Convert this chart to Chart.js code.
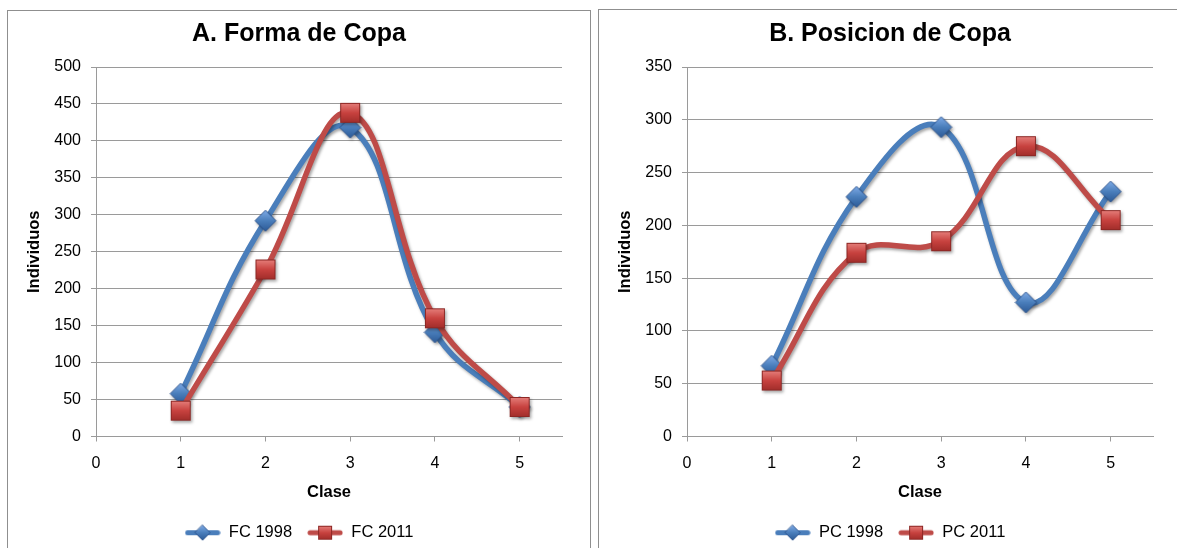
<!DOCTYPE html>
<html>
<head>
<meta charset="utf-8">
<script src="https://cdn.jsdelivr.net/npm/chart.js@4.4.0/dist/chart.umd.min.js"></script>
<style>
html, body { margin: 0; padding: 0; background: #fff; overflow: hidden; width: 1177px; height: 548px; }
.box { position: absolute; border: 1px solid #8f8f8f; background: #fff; }
#boxA { left: 7px; top: 10px; width: 582px; height: 560px; }
#boxB { left: 598px; top: 9px; width: 620px; height: 560px; }
canvas { display: block; }
</style>
</head>
<body>
<div class="box" id="boxA"><canvas id="cA" width="582" height="540"></canvas></div>
<div class="box" id="boxB"><canvas id="cB" width="582" height="541"></canvas></div>
<script>
// ---------- data ----------
const clases = [1, 2, 3, 4, 5];
const xTickValues = [0, 1, 2, 3, 4, 5];
const fc1998 = [58, 292, 418, 141, 40];
const fc2011 = [35, 226, 438, 160, 40];
const pc1998 = [67, 227, 293, 127, 232];
const pc2011 = [53, 174, 185, 275, 205];
const titleA = 'A. Forma de Copa';
const titleB = 'B. Posicion de Copa';
const seriesNamesA = ['FC 1998', 'FC 2011'];
const seriesNamesB = ['PC 1998', 'PC 2011'];
const yAxisTitle = 'Individuos';
const xAxisTitle = 'Clase';
const yMaxA = 500, yMaxB = 350, yStep = 50;

// ---------- style ----------
const FONT = "'Liberation Sans', Arial, Helvetica, sans-serif";
Chart.defaults.font.family = FONT;
Chart.defaults.color = '#000';
const BLUE = '#4a7ebb';
const RED = '#be4b48';
const GRID = '#9a9a9a';

function diamondImg(half, withLine) {
  const w = withLine ? 36 : Math.ceil(half * 2 + 2);
  const h = Math.ceil(half * 2 + 2);
  const c = document.createElement('canvas');
  c.width = w; c.height = h;
  const ctx = c.getContext('2d');
  const cx = w / 2, cy = h / 2;
  if (withLine) {
    ctx.strokeStyle = BLUE; ctx.lineWidth = 5; ctx.lineCap = 'round';
    ctx.beginPath(); ctx.moveTo(3, cy); ctx.lineTo(w - 3, cy); ctx.stroke();
  }
  const g = ctx.createLinearGradient(0, cy - half, 0, cy + half);
  g.addColorStop(0, '#7eaae6');
  g.addColorStop(0.5, '#4a7ebb');
  g.addColorStop(1, '#2c5a96');
  ctx.beginPath();
  ctx.moveTo(cx, cy - half); ctx.lineTo(cx + half, cy); ctx.lineTo(cx, cy + half); ctx.lineTo(cx - half, cy); ctx.closePath();
  ctx.fillStyle = g; ctx.fill();
  ctx.strokeStyle = 'rgba(40,80,140,0.9)'; ctx.lineWidth = 1; ctx.stroke();
  return c;
}
function squareImg(side, withLine) {
  const w = withLine ? 36 : Math.ceil(side + 2);
  const h = Math.ceil(side + 2);
  const c = document.createElement('canvas');
  c.width = w; c.height = h;
  const ctx = c.getContext('2d');
  const cx = w / 2, cy = h / 2;
  if (withLine) {
    ctx.strokeStyle = RED; ctx.lineWidth = 5; ctx.lineCap = 'round';
    ctx.beginPath(); ctx.moveTo(3, cy); ctx.lineTo(w - 3, cy); ctx.stroke();
  }
  const x0 = cx - side / 2, y0 = cy - side / 2;
  const g = ctx.createLinearGradient(0, y0, 0, y0 + side);
  g.addColorStop(0, '#e6807c');
  g.addColorStop(0.5, '#c8423f');
  g.addColorStop(1, '#a02d2a');
  ctx.fillStyle = g; ctx.fillRect(x0, y0, side, side);
  ctx.strokeStyle = '#8c2724'; ctx.lineWidth = 1; ctx.strokeRect(x0 + 0.5, y0 + 0.5, side - 1, side - 1);
  return c;
}

const diamondPt = diamondImg(10.5, false);
const squarePt = squareImg(20, false);
const diamondLeg = diamondImg(7.5, true);
const squareLeg = squareImg(14, true);
const legendImgs = [diamondLeg, squareLeg];

const shadowPlugin = {
  id: 'seriesShadow',
  beforeDatasetDraw(chart) {
    const ctx = chart.ctx;
    ctx.save();
    ctx.shadowColor = 'rgba(0,0,0,0.35)';
    ctx.shadowBlur = 3;
    ctx.shadowOffsetX = 1.5;
    ctx.shadowOffsetY = 2;
  },
  afterDatasetDraw(chart) { chart.ctx.restore(); }
};

function toPoints(values) { return clases.map((c, i) => ({ x: c, y: values[i] })); }

function makeChart(id, title, names, s1, s2, yMax, titleTop) {
  return new Chart(document.getElementById(id), {
    type: 'line',
    data: {
      datasets: [
        { label: names[0], data: toPoints(s1), borderColor: BLUE, backgroundColor: BLUE,
          borderWidth: 5.5, tension: 0.4, pointStyle: diamondPt, pointRadius: 10, pointHoverRadius: 10,
          order: 1, clip: false, fill: false },
        { label: names[1], data: toPoints(s2), borderColor: RED, backgroundColor: RED,
          borderWidth: 5.5, tension: 0.4, pointStyle: squarePt, pointRadius: 10, pointHoverRadius: 10,
          order: 0, clip: false, fill: false }
      ]
    },
    options: {
      responsive: false,
      animation: false,
      events: [],
      layout: { padding: { left: 28, right: 28, top: 0, bottom: 0 } },
      scales: {
        x: {
          type: 'linear', min: 0, max: 5.5,
          afterBuildTicks: s => { s.ticks = xTickValues.map(v => ({ value: v })); },
          ticks: { stepSize: 1, includeBounds: false, padding: 12, color: '#000', font: { size: 16 } },
          grid: { drawOnChartArea: false, drawTicks: true, tickLength: 5, color: GRID },
          border: { display: true, color: GRID, width: 1 },
          title: { display: true, text: xAxisTitle, color: '#000', font: { size: 16.5, weight: 'bold' }, padding: { top: 0, bottom: 7 } },
          afterFit: s => { s.height = 73; }
        },
        y: {
          min: 0, max: yMax,
          ticks: { stepSize: yStep, padding: 10, color: '#000', font: { size: 16 } },
          grid: { color: GRID, drawTicks: true, tickLength: 5 },
          border: { display: true, color: GRID, width: 1 },
          title: { display: true, text: yAxisTitle, color: '#000', font: { size: 16.5, weight: 'bold' }, padding: { top: -11, bottom: 0 } },
          afterFit: s => { s.width = 60; }
        }
      },
      plugins: {
        title: { display: true, text: title, color: '#000', font: { size: 25, weight: 'bold' }, padding: { top: titleTop, bottom: 18 } },
        legend: {
          position: 'bottom',
          labels: {
            usePointStyle: true, pointStyleWidth: 36, padding: 15, color: '#000',
            font: { size: 16.5 },
            generateLabels: chart => {
              const items = Chart.defaults.plugins.legend.labels.generateLabels(chart);
              items.forEach(it => { it.pointStyle = legendImgs[it.datasetIndex]; });
              return items.sort((a, b) => a.datasetIndex - b.datasetIndex);
            }
          }
        },
        tooltip: { enabled: false }
      }
    },
    plugins: [shadowPlugin]
  });
}

makeChart('cA', titleA, seriesNamesA, fc1998, fc2011, yMaxA, 8);
makeChart('cB', titleB, seriesNamesB, pc1998, pc2011, yMaxB, 9);
</script>
</body>
</html>
